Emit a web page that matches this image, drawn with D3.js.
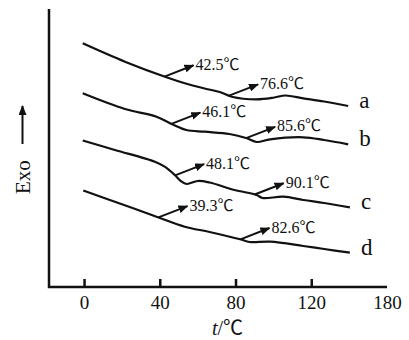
<!DOCTYPE html>
<html>
<head>
<meta charset="utf-8">
<script src="https://cdn.jsdelivr.net/npm/d3@7"></script>
<style>
  body { margin: 0; background: #fff; }
  text { font-family: "Liberation Serif", "Noto Sans CJK SC", serif; fill: #111; }
</style>
</head>
<body>
<div id="chart"></div>
<script>
// DSC curves, t in degC, heat flow in arbitrary units (stacked, Exo up)
const curveA = [[-0.7, 243.7], [21.6, 225.3], [43.5, 209.7], [53.2, 203.7], [63.2, 198.7], [71.6, 195],
    [78, 190.3], [91, 187.7], [100.5, 189.5], [106.3, 191.5], [115.8, 188.7], [126.8, 185.5], [139.5, 181]];
const curveB = [[-0.7, 193.7], [21.6, 178], [38.3, 170.3], [46.2, 163], [54.1, 157], [63.7, 155.3], [76.8, 153],
    [86, 148.7], [91.2, 145], [98.3, 147.7], [115.8, 149.7], [126.8, 147], [139.5, 142.7]];
const curveC = [[-0.7, 146.5], [16.3, 137], [37.4, 125.3], [42.6, 120.3], [47.9, 112], [51.1, 106], [54.2, 103],
    [60, 106], [66.3, 104.5], [79.5, 97], [91.2, 92], [94.2, 89], [105.3, 90.3], [115.8, 87], [126.8, 84], [140.4, 79.7]];
const curveD = [[-0.4, 96.5], [18.9, 83.5], [38.3, 70.3], [53.2, 60.3], [66.3, 55], [82.5, 47.7], [87.4, 45],
    [98.3, 45.3], [115.8, 41], [126.8, 38], [140.4, 34.3]];

const seriesNames = ["a", "b", "c", "d"];
const onsetTemps = [[42.5, 76.6], [46.1, 85.6], [48.1, 90.1], [39.3, 82.6]];

const tickValues = [0, 40, 80, 120, 160];
const tickLabels = ["0", "40", "80", "120", "180"];

const width = 409, height = 340;
const margin = { top: 9, right: 22, bottom: 53, left: 49 };

const svg = d3.select("#chart").append("svg")
    .attr("width", width)
    .attr("height", height);

const x = d3.scaleLinear()
    .domain([-18.5, 160])
    .range([margin.left, width - margin.right]);

const y = d3.scaleLinear()
    .domain([0, 278])
    .range([height - margin.bottom, margin.top]);

// arrow head
svg.append("defs").append("marker")
    .attr("id", "head")
    .attr("viewBox", "0 0 10 8")
    .attr("refX", 9)
    .attr("refY", 4)
    .attr("markerWidth", 10)
    .attr("markerHeight", 8)
    .attr("markerUnits", "userSpaceOnUse")
    .attr("orient", "auto")
    .append("path")
    .attr("d", "M0,0L10,4L0,8Z")
    .attr("fill", "#111");

// x axis, ticks point up into the plot
const xAxis = d3.axisBottom(x)
    .tickValues(tickValues)
    .tickFormat((d, i) => tickLabels[i])
    .tickSizeInner(-8)
    .tickSizeOuter(0)
    .tickPadding(9);

const gx = svg.append("g")
    .attr("transform", "translate(0," + y(0) + ")")
    .call(xAxis);
gx.select(".domain").remove();
gx.selectAll(".tick line").attr("stroke", "#111").attr("stroke-width", 2.5)
    .filter(d => d === 160).remove();
gx.selectAll(".tick text")
    .style("font-family", "'Liberation Serif', serif")
    .style("font-size", "19px")
    .attr("fill", "#111");

// axis frame lines
svg.append("path")
    .attr("d", "M" + x.range()[0] + "," + y.range()[1] + "V" + y(0) + "H" + x.range()[1])
    .attr("fill", "none")
    .attr("stroke", "#111")
    .attr("stroke-width", 2.5);

// axis titles
const xt = svg.append("text")
    .attr("x", 212)
    .attr("y", 335)
    .style("font-size", "20px");
xt.append("tspan").style("font-style", "italic").text("t");
xt.append("tspan").text("/℃");

svg.append("text")
    .attr("transform", "translate(30,194) rotate(-90)")
    .style("font-size", "21px")
    .text("Exo");

svg.append("line")
    .attr("x1", 22.5).attr("y1", 144)
    .attr("x2", 22.5).attr("y2", 106)
    .attr("stroke", "#111")
    .attr("stroke-width", 2)
    .attr("marker-end", "url(#head)");

// curves
const curves = [curveA, curveB, curveC, curveD];
const line = d3.line()
    .x(d => x(d[0]))
    .y(d => y(d[1]))
    .curve(d3.curveCatmullRom.alpha(0.5));

function valueAt(data, t) {
    for (let i = 1; i < data.length; i++) {
        if (t <= data[i][0]) {
            let k = (t - data[i - 1][0]) / (data[i][0] - data[i - 1][0]);
            return data[i - 1][1] + k * (data[i][1] - data[i - 1][1]);
        }
    }
    return data[data.length - 1][1];
}

curves.forEach(function (data, i) {
    svg.append("path")
        .datum(data)
        .attr("d", line)
        .attr("fill", "none")
        .attr("stroke", "#111")
        .attr("stroke-width", 2.2)
        .attr("stroke-linejoin", "round");

    let last = data[data.length - 1];
    svg.append("text")
        .attr("x", x(last[0]) + 11)
        .attr("y", y(last[1]) - 6)
        .attr("dy", "0.35em")
        .style("font-size", "23px")
        .text(seriesNames[i]);

    onsetTemps[i].forEach(function (t) {
        let sx = x(t), sy = y(valueAt(data, t));
        let tx = sx + 29, ty = sy - 11.3;
        svg.append("line")
            .attr("x1", sx).attr("y1", sy)
            .attr("x2", tx).attr("y2", ty)
            .attr("stroke", "#111")
            .attr("stroke-width", 2)
            .attr("marker-end", "url(#head)");
        svg.append("text")
            .attr("x", tx + 2)
            .attr("y", ty - 1)
            .attr("dy", "0.35em")
            .style("font-size", "16px")
            .text(t.toFixed(1) + "℃");
    });
});
</script>
</body>
</html>
